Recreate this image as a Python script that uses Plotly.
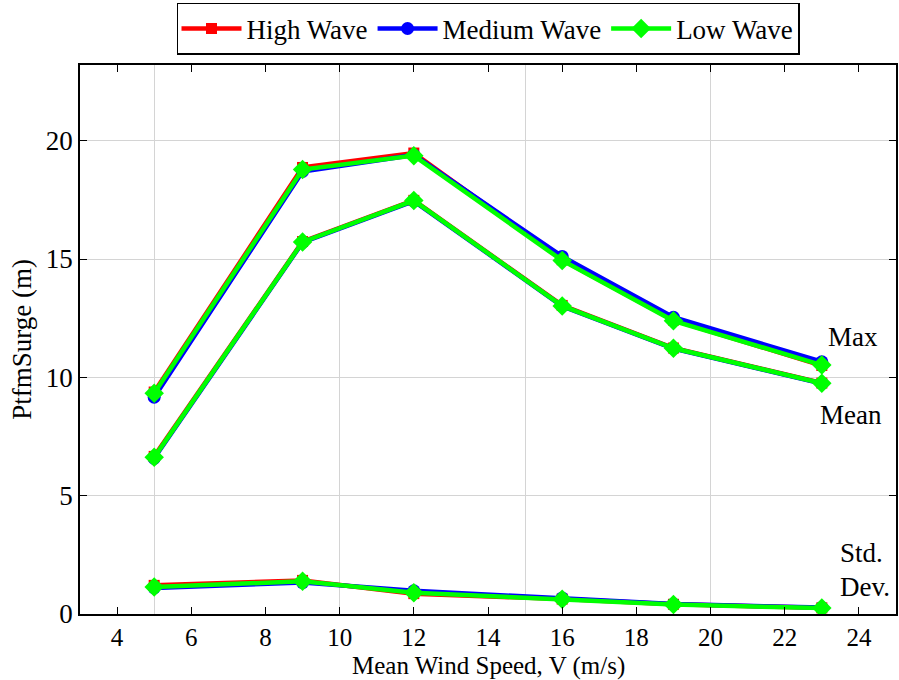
import plotly.graph_objects as go

# Mean wind speeds (m/s)
wind_speed = [5, 9, 12, 16, 19, 23]

# Platform surge statistics (m) for each wave condition
high_max = [9.38, 18.87, 19.48, 14.97, 12.42, 10.50]
high_mean = [6.66, 15.74, 17.48, 13.04, 11.24, 9.76]
high_std = [1.21, 1.42, 0.86, 0.63, 0.41, 0.26]

med_max = [9.16, 18.70, 19.40, 15.11, 12.54, 10.66]
med_mean = [6.58, 15.70, 17.45, 13.01, 11.22, 9.74]
med_std = [1.10, 1.33, 0.98, 0.68, 0.42, 0.27]

low_max = [9.33, 18.78, 19.37, 14.94, 12.39, 10.52]
low_mean = [6.62, 15.72, 17.47, 13.02, 11.23, 9.75]
low_std = [1.14, 1.38, 0.90, 0.62, 0.40, 0.25]

x_ticks = [4, 6, 8, 10, 12, 14, 16, 18, 20, 22, 24]
x_grid = [5, 10, 15, 20]
y_ticks = [0, 5, 10, 15, 20]

FONT = "Liberation Serif, Times New Roman, serif"
FSIZE = 27

series = [
    ("High Wave", "#ff0000", "square", 11, [high_max, high_mean, high_std]),
    ("Medium Wave", "#0000ff", "circle", 13, [med_max, med_mean, med_std]),
    ("Low Wave", "#00ff00", "diamond", 15, [low_max, low_mean, low_std]),
]

fig = go.Figure()
for name, color, symbol, msize, groups in series:
    for i, vals in enumerate(groups):
        fig.add_trace(go.Scatter(
            x=wind_speed, y=vals, mode="lines+markers", name=name,
            legendgroup=name, showlegend=(i == 0),
            line=dict(color=color, width=4.5),
            marker=dict(symbol=symbol, size=msize, color=color),
        ))

# Labels for the three groups of curves
labels = [
    ("Max", 23.83, 11.72, "center"),
    ("Mean", 23.78, 8.41, "center"),
    ("Std.", 23.43, 2.56, "left"),
    ("Dev.", 23.43, 1.14, "left"),
]
for text, lx, ly, anchor in labels:
    fig.add_annotation(x=lx, y=ly, text=text, showarrow=False,
                       xanchor=anchor, yanchor="middle",
                       font=dict(family=FONT, size=FSIZE, color="black"))

# x-axis title placed just below the tick labels
fig.add_annotation(text="Mean Wind Speed, V (m/s)", xref="paper", yref="paper",
                   x=0.5, y=-0.0945, xanchor="center", yanchor="middle",
                   showarrow=False, borderpad=0,
                   font=dict(family=FONT, size=25, color="black"))

axis_common = dict(
    showline=True, linecolor="black", linewidth=1.5, mirror="ticks",
    ticks="inside", ticklen=7, tickwidth=1.2, tickcolor="black",
    zeroline=False,
)

fig.update_xaxes(
    range=[3, 25], tickmode="array", tickvals=x_ticks, showgrid=False,
    tickfont=dict(family=FONT, size=25, color="black"),
    minor=dict(tickmode="array", tickvals=x_grid, showgrid=True,
               gridcolor="#d4d4d4", gridwidth=1, ticks=""),
    **axis_common,
)
fig.update_yaxes(
    range=[0, 23.2], tickmode="array", tickvals=y_ticks, showgrid=True,
    gridcolor="#d4d4d4", gridwidth=1,
    tickfont=dict(family=FONT, size=FSIZE, color="black"),
    title=dict(text="PtfmSurge (m)", standoff=6,
               font=dict(family=FONT, size=FSIZE, color="black")),
    **axis_common,
)

fig.update_layout(
    width=899, height=680,
    margin=dict(l=80, r=1, t=65, b=66),
    plot_bgcolor="white", paper_bgcolor="white",
    font=dict(family=FONT, size=FSIZE, color="black"),
    showlegend=True,
    legend=dict(
        orientation="h", x=0.5, xanchor="center", y=1.113, yanchor="top",
        bordercolor="black", borderwidth=1.5, bgcolor="white",
        itemwidth=60, font=dict(family=FONT, size=FSIZE, color="black"),
        tracegroupgap=0,
    ),
)

fig.write_html("out.html")
